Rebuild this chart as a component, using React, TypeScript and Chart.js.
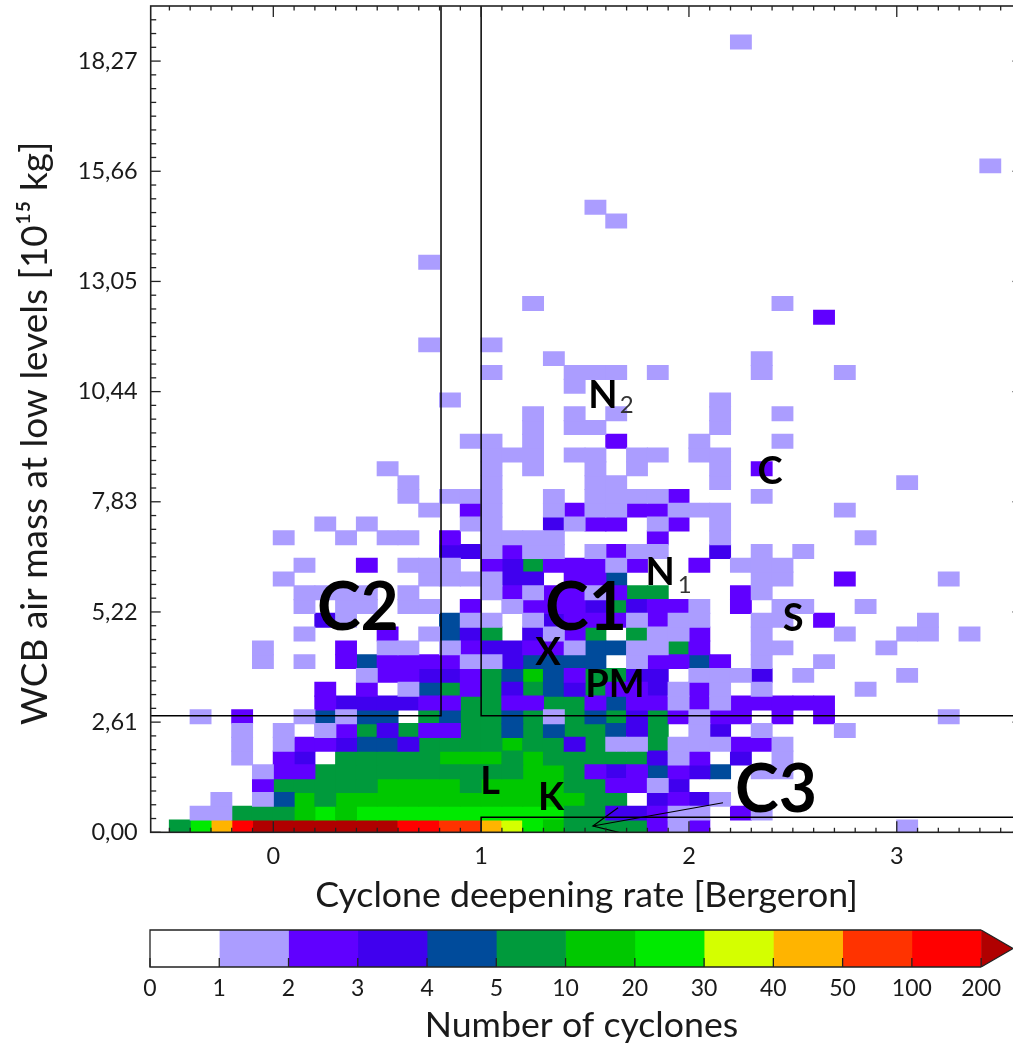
import React, { useEffect, useRef } from "react";
import { Chart, registerables } from "chart.js";

Chart.register(...registerables);

// Histogram bins
const xFirstEdge = -0.5;
const xBinWidth = 0.1;
const yBinHeight = 0.32625;
const yBinShift = -0.035;

// Colour classes: '.'=0 ... one char per class, index into classColors
const classChars = ".123456789abc";
const classColors = ["#ffffff", "#ab9dff", "#6000ff", "#4000ee", "#004b9b", "#009a3c", "#00c800", "#00ea00", "#d4ff00", "#ffb400", "#ff3300", "#ff0000", "#b00000"];
const classBounds = ["0", "1", "2", "3", "4", "5", "10", "20", "30", "40", "50", "100", "200"];

// Each row (bottom to top): "startColumn:classes" segments
const rowSegments: string[] = [
  "0:579bcccccccbbaa98765555212 35:1",
  "1:1155567677777777775533211 27:21",
  "2:1.1465666666666666 20:55.3231",
  "4:2555556666 14:5666 18:65522 23:13",
  "4:1225555555555 17:665232423 26:4 28:11",
  "3:1.23.55555 13:66656 18:55555 23:312.3.1",
  "3:1.122344355556 17:55351151 25:11221",
  "3:1.1.1 7:125352 13:255454 19:55435 25:13 28:1 32:1",
  "1:1.2 6:14144 11:.54554 17:5154535 24:2122 29:2 31:2 37:1",
  "7:233332 13:255 16:22552422 24:12 26:122222",
  "7:2.2.1 12:452535 18:4352 22:231 25:21 28:1 33:1",
  "9:122332 15:5464255 22:33.1113 30:1 35:1",
  "4:1.1 8:2422 12:2211344 19:44.1224 26:2 28:1 31:1",
  "4:1 8:2.11 13:123322 19:144 22:1152 28:11 34:1",
  "6:1 10:2 12:1435 17:3125 22:5112 28:1 32:1 35:11 38:1",
  "7:31 13:411 17:1 18:322212 24:11 28:11 31:2 36:1",
  "6:1.11 11:11 14:2 16:122 19:2353 23:221 27:2 29:11 33:1",
  "6:1111 11:1 15:1212 19:2 20:1255 27:21",
  "5:1 12:1111 16:33 19:224 28:11 32:2 37:1",
  "6:1 9:2 11:111 15:2352 19:2212 25:2 27:111",
  "13:331211 20:1211 26:3 28:1 30:1",
  "5:1 8:1 10:11 13:2 15:1111 23:2 26:1 33:1",
  "7:1 9:1 14:11 18:3122 23:12 26:1",
  "12:1 14:21 18:121122111 32:1",
  "11:1 13:111 18:1 20:11112 28:1",
  "11:1 15:1 20:11 26:1 35:1",
  "10:1 15:1 17:1 20:1 22:1 26:1 28:2",
  "15:111 19:11 22:11 25:11",
  "14:11 17:1 21:2 25:1 29:1",
  "17:1 19:11 26:1",
  "17:1 19:1 21:1 26:1 29:1",
  "13:1 26:1",
  "19:1",
  "15:1 19:111 23:1 28:1 32:1",
  "18:1 28:1",
  "12:1 15:1",
  "",
  "31:2",
  "17:1 29:1",
  "",
  "",
  "12:1",
  "",
  "",
  "21:1",
  "20:1",
  "",
  "",
  "39:1",
  "", "", "", "", "", "", "", "",
  "27:1",
];

// Axes
const xTickValues = [0, 1, 2, 3];
const yTickValues = [0, 2.61, 5.22, 7.83, 10.44, 13.05, 15.66, 18.27];
const xRange = [-0.59, 3.605];
const yRange = [0, 19.575];
const xMinorStep = 0.1;
const yMinorStep = 0.32625;

// Annotation lines
const boxLeft = [{ x: -0.59, y: 2.763 }, { x: 0.807, y: 2.763 }, { x: 0.807, y: 19.575 }];
const boxRight = [{ x: 1.0, y: 19.575 }, { x: 1.0, y: 2.763 }, { x: 3.605, y: 2.763 }];
const boxBottom = [{ x: 1.0, y: 0 }, { x: 1.0, y: 0.355 }, { x: 3.605, y: 0.355 }];
const arrowHead = [{ x: 1.659, y: 0.583 }, { x: 1.538, y: 0.15 }, { x: 1.677, y: -0.02 }];
const arrowShaft = [{ x: 1.538, y: 0.15 }, { x: 2.164, y: 0.7 }];

// Text labels
const bigLabels = [
  { t: "C1", x: 1.505, y: 5.29 },
  { t: "C2", x: 0.407, y: 5.29 },
  { t: "C3", x: 2.419, y: 0.98 },
];
const midLabels = [
  { t: "L", x: 1.043, y: 1.19 },
  { t: "K", x: 1.336, y: 0.81 },
  { t: "X", x: 1.322, y: 4.25 },
  { t: "PM", x: 1.644, y: 3.49 },
  { t: "S", x: 2.501, y: 5.05 },
  { t: "C", x: 2.39, y: 8.54 },
  { t: "N", x: 1.586, y: 10.34 },
  { t: "N", x: 1.861, y: 6.14 },
];
const subLabels = [
  { t: "2", x: 1.7, y: 10.12 },
  { t: "1", x: 1.98, y: 5.86 },
];

const FONT = "Lato";
const INK = "#1a1a1a";

function parseCells() {
  const byClass: { x: number; y: [number, number] }[][] = classColors.map(() => []);
  rowSegments.forEach((row, r) => {
    if (!row) return;
    row.split(" ").forEach((seg) => {
      const [start, chars] = seg.split(":");
      [...chars].forEach((ch, k) => {
        const level = classChars.indexOf(ch);
        if (level <= 0) return;
        const col = Number(start) + k;
        byClass[level].push({
          x: xFirstEdge + xBinWidth * (col + 0.5),
          y: [r * yBinHeight + yBinShift - 0.006, (r + 1) * yBinHeight + yBinShift + 0.006],
        });
      });
    });
  });
  return byClass;
}

function lineSet(data: { x: number; y: number }[], width: number) {
  return {
    type: "line" as const,
    data,
    borderColor: "#000",
    borderWidth: width,
    pointRadius: 0,
    tension: 0,
    fill: false,
    order: -1,
  };
}

const framePlugin = {
  id: "frame",
  afterDatasetsDraw(chart: any) {
    const { ctx, chartArea: a, scales } = chart;
    const xs = scales.x;
    const ys = scales.y;
    ctx.save();
    ctx.strokeStyle = "#222";
    ctx.lineWidth = 1.3;
    const seg = (x1: number, y1: number, x2: number, y2: number) => {
      ctx.beginPath();
      ctx.moveTo(x1, y1);
      ctx.lineTo(x2, y2);
      ctx.stroke();
    };
    for (let k = -5; k <= 36; k++) {
      const v = k * xMinorStep;
      const p = xs.getPixelForValue(v);
      if (p < a.left || p > a.right) continue;
      const len = k % 10 === 0 ? 11 : 4.5;
      seg(p, a.bottom, p, a.bottom - len);
      seg(p, a.top, p, a.top + len);
    }
    for (let k = 0; k <= 59; k++) {
      const p = ys.getPixelForValue(k * yMinorStep);
      const len = k % 8 === 0 ? 10 : 5.5;
      seg(a.left, p, a.left + len, p);
      seg(a.right, p, a.right - len, p);
    }
    ctx.lineWidth = 1.6;
    ctx.strokeRect(a.left, a.top, a.right - a.left, a.bottom - a.top);

    ctx.fillStyle = "#000";
    ctx.textAlign = "center";
    ctx.textBaseline = "middle";
    const put = (list: { t: string; x: number; y: number }[], font: string) => {
      ctx.font = font;
      list.forEach((l) => ctx.fillText(l.t, xs.getPixelForValue(l.x), ys.getPixelForValue(l.y)));
    };
    put(bigLabels, `bold 66px ${FONT}`);
    put(midLabels, `bold 38px ${FONT}`);
    ctx.fillStyle = "#333";
    put(subLabels, `24px ${FONT}`);
    ctx.restore();
  },
};

const barPlugin = {
  id: "barFrame",
  afterDatasetsDraw(chart: any) {
    const { ctx, chartArea: a, scales } = chart;
    const xs = scales.x;
    const tipStart = xs.getPixelForValue(12);
    const tipEnd = xs.getPixelForValue(12.46);
    ctx.save();
    ctx.fillStyle = classColors[12];
    ctx.beginPath();
    ctx.moveTo(tipStart, a.top);
    ctx.lineTo(tipEnd, (a.top + a.bottom) / 2);
    ctx.lineTo(tipStart, a.bottom);
    ctx.closePath();
    ctx.fill();
    ctx.strokeStyle = "#222";
    ctx.lineWidth = 1.3;
    ctx.beginPath();
    ctx.moveTo(tipStart, a.top);
    ctx.lineTo(tipEnd, (a.top + a.bottom) / 2);
    ctx.lineTo(tipStart, a.bottom);
    ctx.stroke();
    ctx.beginPath();
    ctx.moveTo(tipStart, a.top);
    ctx.lineTo(a.left, a.top);
    ctx.lineTo(a.left, a.bottom);
    ctx.lineTo(tipStart, a.bottom);
    ctx.stroke();
    classBounds.forEach((_, k) => {
      const p = xs.getPixelForValue(k);
      ctx.beginPath();
      ctx.moveTo(p, a.bottom);
      ctx.lineTo(p, a.bottom - 9);
      ctx.stroke();
    });
    ctx.restore();
  },
};

export default function App() {
  const mainRef = useRef<HTMLCanvasElement>(null);
  const barRef = useRef<HTMLCanvasElement>(null);

  useEffect(() => {
    document.body.style.margin = "0";
    const cells = parseCells();
    const main = new Chart(mainRef.current!, {
      type: "bar",
      data: {
        datasets: [
          ...classColors.map((color, level) => ({
            type: "bar" as const,
            data: cells[level],
            backgroundColor: color,
            borderWidth: 0,
            barThickness: 21.2,
            grouped: false,
            order: 1,
          })),
          lineSet(boxLeft, 1.5),
          lineSet(boxRight, 1.5),
          lineSet(boxBottom, 1.5),
          lineSet(arrowHead, 1.2),
          lineSet(arrowShaft, 1.2),
        ] as any,
      },
      options: {
        responsive: false,
        animation: false,
        layout: { padding: { left: 0, right: 17.5, top: 6, bottom: 0 } },
        plugins: { legend: { display: false }, tooltip: { enabled: false } },
        scales: {
          x: {
            type: "linear",
            offset: false,
            min: xRange[0],
            max: xRange[1],
            grid: { display: false, drawTicks: false, offset: false },
            border: { display: false },
            afterBuildTicks: (s: any) => { s.ticks = xTickValues.map((value) => ({ value })); },
            afterFit: (s: any) => { s.height = 920 - 832.3; s.paddingLeft = 0; s.paddingRight = 0; },
            ticks: { autoSkip: false, maxRotation: 0, padding: 10, color: INK, font: { family: FONT, size: 23.5 }, callback: (v: any) => String(v) },
            title: { display: true, text: "Cyclone deepening rate [Bergeron]", color: INK, font: { family: FONT, size: 35.7 }, padding: { top: 0, bottom: 3 } },
          },
          y: {
            type: "linear",
            min: yRange[0],
            max: yRange[1],
            grid: { display: false, drawTicks: false },
            border: { display: false },
            afterBuildTicks: (s: any) => { s.ticks = yTickValues.map((value) => ({ value })); },
            afterFit: (s: any) => { s.width = 150.7; s.paddingTop = 0; s.paddingBottom = 0; },
            ticks: { autoSkip: false, padding: 13, color: INK, font: { family: FONT, size: 23.5 }, callback: (v: any) => Number(v).toFixed(2).replace(".", ",") },
            title: { display: true, text: "WCB air mass at low levels [10¹⁵ kg]   ", color: INK, font: { family: FONT, size: 37 }, padding: { top: 13, bottom: 0 } },
          },
        },
      },
      plugins: [framePlugin],
    });

    const bar = new Chart(barRef.current!, {
      type: "bar",
      data: {
        labels: [""],
        datasets: classColors.slice(0, 12).map((color, k) => ({
          data: [[k, k + 1]],
          backgroundColor: color,
          borderWidth: 0,
          grouped: false,
          barPercentage: 1,
          categoryPercentage: 1,
        })) as any,
      },
      options: {
        indexAxis: "y",
        responsive: false,
        animation: false,
        layout: { padding: { left: 150, right: 0, top: 10, bottom: 0 } },
        plugins: { legend: { display: false }, tooltip: { enabled: false } },
        scales: {
          y: { display: false },
          x: {
            type: "linear",
            min: 0,
            max: 12.46,
            grid: { display: false, drawTicks: false },
            border: { display: false },
            afterBuildTicks: (s: any) => { s.ticks = classBounds.map((_, value) => ({ value })); },
            afterFit: (s: any) => { s.height = 77; s.paddingLeft = 0; s.paddingRight = 0; },
            ticks: { autoSkip: false, maxRotation: 0, padding: 8, color: INK, font: { family: FONT, size: 23 }, callback: (v: any) => classBounds[Number(v)] },
            title: { display: true, text: "Number of cyclones", color: INK, font: { family: FONT, size: 35.7 }, padding: { top: 0, bottom: -3 } },
          },
        },
      },
      plugins: [barPlugin],
    });
    return () => {
      main.destroy();
      bar.destroy();
    };
  }, []);

  return (
    <div style={{ position: "fixed", left: 0, top: 0, width: 1013, height: 1044, overflow: "hidden", background: "#fff" }}>
      <canvas ref={mainRef} width={1040} height={920} style={{ position: "absolute", left: 0, top: 0, width: 1040, height: 920 }} />
      <canvas ref={barRef} width={1013} height={124} style={{ position: "absolute", left: 0, top: 920, width: 1013, height: 124 }} />
    </div>
  );
}
